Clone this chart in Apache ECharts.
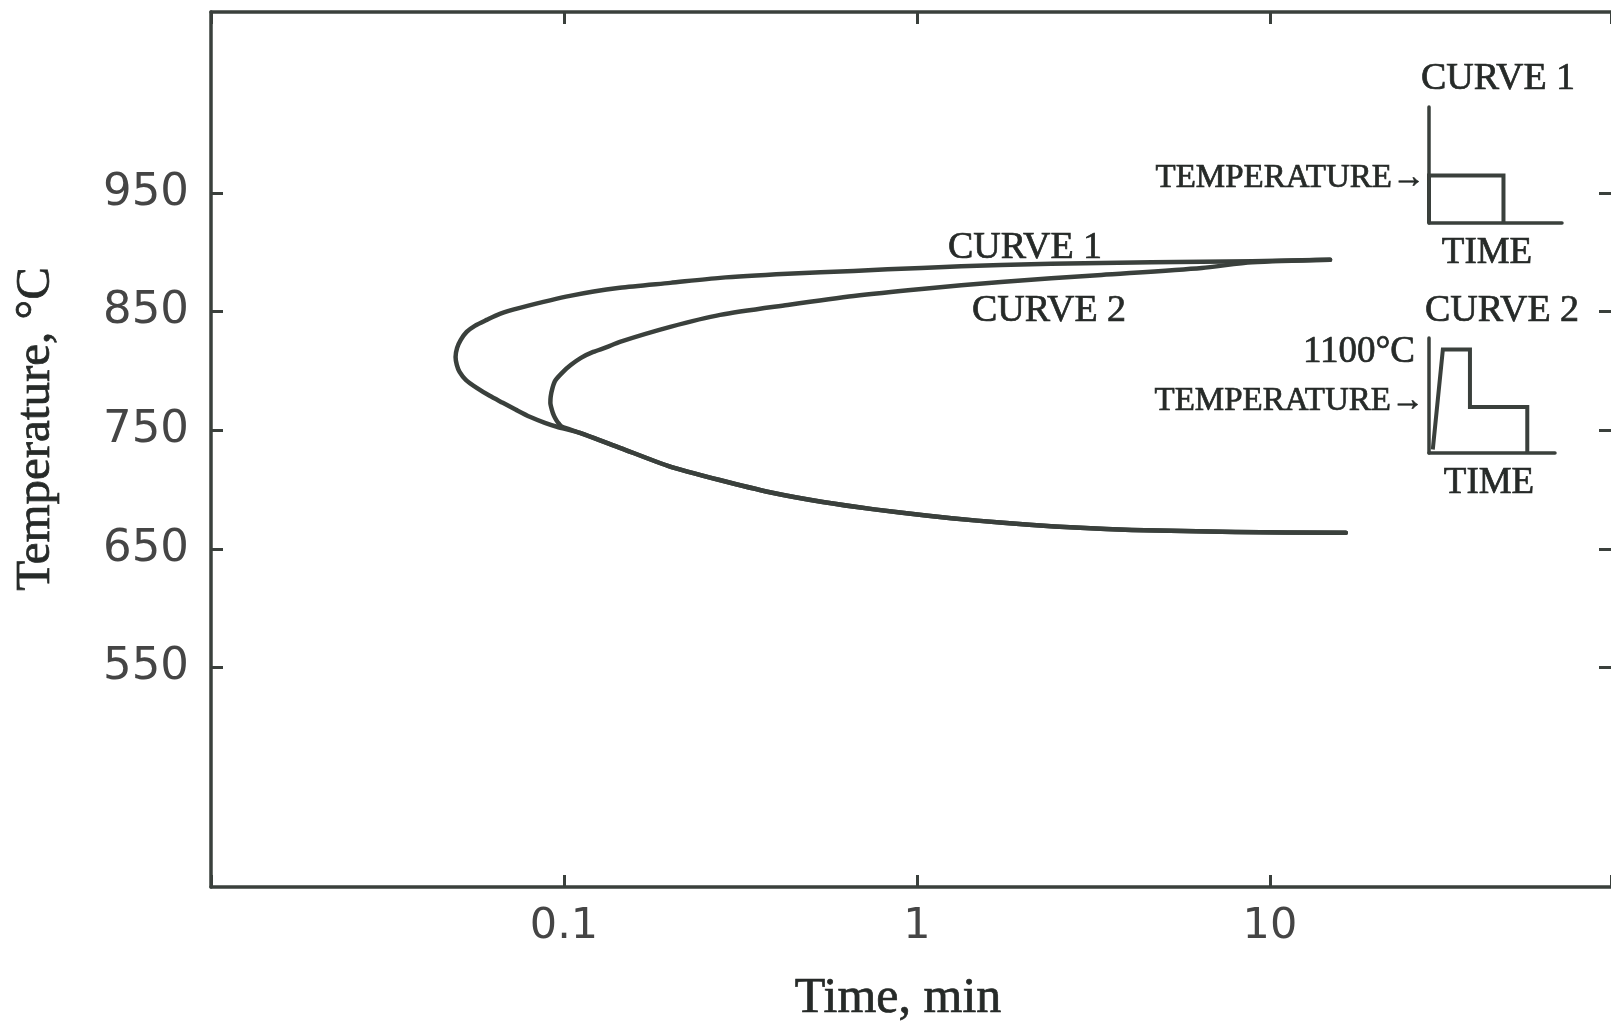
<!DOCTYPE html>
<html>
<head>
<meta charset="utf-8">
<script src="https://cdn.jsdelivr.net/npm/echarts@6/dist/echarts.min.js"></script>
<style>
html,body{margin:0;padding:0;background:#ffffff;}
#c{width:1611px;height:1025px;}
</style>
</head>
<body>
<div id="c"></div>
<script>
// ---- data ----
const timeTicks = [0.1, 1, 10];
const tempTicks = [550, 650, 750, 850, 950];

// Curve 1: upper branch from the right tip, round the nose, down to the junction with curve 2
const curve1Upper = [
  [14.8, 893.6], [8.9, 892.5], [6.41, 891.9], [3.33, 891.0], [1.73, 889.3], [1.03, 886.8],
  [0.662, 884.3], [0.430, 881.8], [0.277, 878.4], [0.200, 874.2], [0.144, 870.0],
  [0.104, 863.2], [0.0750, 853.1], [0.0658, 848.1], [0.0604, 843.0], [0.0559, 838.0],
  [0.0530, 832.9], [0.0510, 826.2], [0.0498, 819.4], [0.0493, 811.8], [0.0497, 805.1],
  [0.0506, 799.2], [0.0527, 792.5], [0.0566, 785.7], [0.0616, 779.0], [0.0671, 773.1],
  [0.0731, 767.2], [0.0800, 761.3], [0.0883, 756.2], [0.0955, 752.9]
];
// Curve 2: upper branch from the right tip, round the nose, to the junction
const curve2Upper = [
  [14.8, 893.6], [8.9, 891.5], [6.41, 886.8], [3.33, 880.9], [1.73, 875.0], [1.03, 869.1],
  [0.662, 863.2], [0.430, 855.6], [0.277, 847.2], [0.200, 837.1], [0.144, 824.5],
  [0.1316, 819.8], [0.121, 816.0], [0.1117, 811.0], [0.1047, 805.1], [0.0994, 799.2],
  [0.0945, 791.9], [0.0928, 785.7], [0.0917, 778.4], [0.0915, 773.1], [0.0924, 767.2],
  [0.0937, 762.1], [0.0954, 757.9], [0.0968, 755.4], [0.0985, 753.1]
];
// Shared lower branch (after the junction) out to the right end
const sharedLower = [
  [0.111, 747.8], [0.144, 735.2], [0.197, 720.0], [0.276, 708.0], [0.386, 697.5],
  [0.541, 689.5], [0.757, 683.3], [1.06, 678.1], [1.48, 673.8], [2.08, 670.3],
  [2.90, 667.7], [4.06, 666.0], [7.96, 664.2], [16.4, 663.6]
];

// Inset schematics (time, temperature in arbitrary 0-10 units)
const inset1Profile = [[0, 0], [0, 4.1], [5.6, 4.1], [5.6, 0]];
const inset2Profile = [[0.3, 0.3], [1.1, 9.0], [3.25, 9.0], [3.25, 4.0], [7.8, 4.0], [7.8, 0]];

// ---- styling ----
const INK = '#3a403c';
const TXT = '#262a28';
const SERIF = '"Liberation Serif", "DejaVu Serif", serif';
const SANS = '"DejaVu Sans", sans-serif';

const chart = echarts.init(document.getElementById('c'), null, {renderer: 'canvas'});

function logAxis(pos, showLabel) {
  return {
    type: 'log', logBase: 10, min: 0.01, max: 92.5, gridIndex: 0, position: pos,
    axisLine: {show: true, onZero: false, lineStyle: {color: INK, width: 3.5}},
    axisTick: {show: true, inside: true, length: 12, lineStyle: {color: INK, width: 3}},
    axisLabel: {show: showLabel, customValues: timeTicks, margin: 18,
                fontFamily: SANS, fontSize: 43, color: '#454545',
                formatter: v => (v < 1 ? String(Number(v.toPrecision(3))) : String(Math.round(v)))},
    splitLine: {show: false}, minorTick: {show: false}, minorSplitLine: {show: false}
  };
}
function tempAxis(pos, showLabel) {
  return {
    type: 'value', min: 365, max: 1102.5, gridIndex: 0, position: pos,
    axisLine: {show: pos === 'left', onZero: false, lineStyle: {color: INK, width: 3.5}},
    axisTick: {show: true, inside: true, length: 12, customValues: tempTicks,
               lineStyle: {color: INK, width: 3}},
    axisLabel: {show: showLabel, customValues: tempTicks, margin: 22,
                fontFamily: SANS, fontSize: 45, color: '#454545'},
    splitLine: {show: false}
  };
}
function insetAxis(idx) {
  return {
    type: 'value', min: 0, max: 10, gridIndex: idx,
    axisLine: {show: true, onZero: false, lineStyle: {color: INK, width: 3.5}},
    axisTick: {show: false}, axisLabel: {show: false}, splitLine: {show: false}
  };
}
function txt(text, x, y, size, align, rot) {
  return {
    type: 'text', x: x, y: y, rotation: rot || 0, z: 10,
    style: {text: text, font: size + 'px ' + SERIF, fill: TXT,
            stroke: TXT, lineWidth: 0.7,
            align: align || 'center', verticalAlign: 'middle',
            textAlign: align || 'center', textVerticalAlign: 'middle'}
  };
}

const option = {
  backgroundColor: '#ffffff',
  animation: false,
  grid: [
    {left: 211, top: 12, width: 1400, height: 875},
    {left: 1429, top: 107, width: 133, height: 116},
    {left: 1429, top: 338, width: 126, height: 115}
  ],
  xAxis: [logAxis('bottom', true), logAxis('top', false), insetAxis(1), insetAxis(2)],
  yAxis: [tempAxis('left', true), tempAxis('right', false), insetAxis(1), insetAxis(2)],
  series: [
    {type: 'line', name: 'CURVE 1', xAxisIndex: 0, yAxisIndex: 0, smooth: 0.25,
     showSymbol: false, symbol: 'none', data: curve1Upper.concat(sharedLower),
     lineStyle: {color: INK, width: 4.5, cap: 'round', join: 'round'}},
    {type: 'line', name: 'CURVE 2', xAxisIndex: 0, yAxisIndex: 0, smooth: 0.25,
     showSymbol: false, symbol: 'none', data: curve2Upper.concat(sharedLower),
     lineStyle: {color: INK, width: 4.5, cap: 'round', join: 'round'}},
    {type: 'line', xAxisIndex: 2, yAxisIndex: 2, showSymbol: false, symbol: 'none',
     data: inset1Profile, lineStyle: {color: INK, width: 4, join: 'miter'}},
    {type: 'line', xAxisIndex: 3, yAxisIndex: 3, showSymbol: false, symbol: 'none',
     data: inset2Profile, lineStyle: {color: INK, width: 4, join: 'miter'}}
  ],
  graphic: [
    txt('Temperature, °C', 36, 429, 49, 'center', Math.PI / 2),
    txt('Time, min', 898, 999, 50, 'center'),
    txt('CURVE 1', 1025, 248, 38, 'center'),
    txt('CURVE 2', 1049, 311, 38, 'center'),
    txt('CURVE 1', 1498, 79, 38, 'center'),
    txt('TEMPERATURE\u2192', 1425, 178, 33, 'right'),
    txt('TIME', 1487, 253, 37, 'center'),
    txt('CURVE 2', 1502, 311, 38, 'center'),
    txt('1100\u00B0C', 1415, 352, 37, 'right'),
    txt('TEMPERATURE\u2192', 1424, 401, 33, 'right'),
    txt('TIME', 1489, 483, 37, 'center')
  ]
};
chart.setOption(option);
</script>
</body>
</html>
